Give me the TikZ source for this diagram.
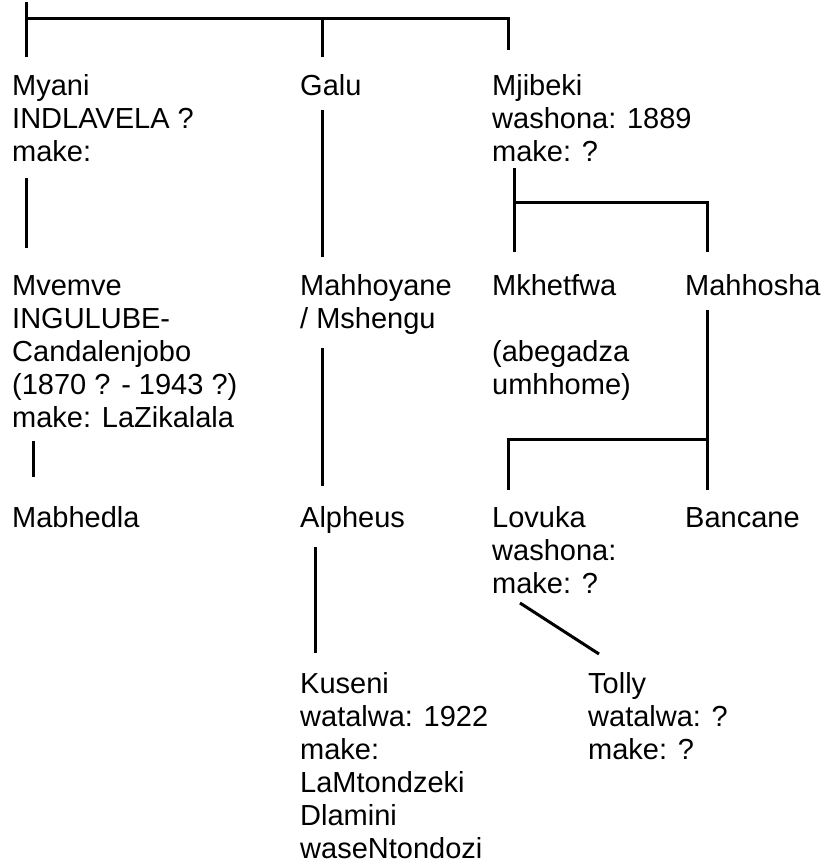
\documentclass[tikz,border=0pt]{standalone}
\usepackage{fontspec}
\setmainfont{Liberation Sans}
\begin{document}
\begin{tikzpicture}[x=1pt,y=-1pt,
  person/.style={anchor=north west,inner sep=0pt,align=left,
    font=\fontsize{29}{33}\selectfont},
  link/.style={line width=3pt,line cap=butt}]
\useasboundingbox (0,0) rectangle (824,864);
% people
\node[person] (myani) at (12,71.9) {\strut Myani\\INDLAVELA ?\\make:};
\node[person] (galu) at (300,71.9) {\strut Galu};
\node[person] (mjibeki) at (492,71.9) {\strut Mjibeki\\washona: 1889\\make: ?};
\node[person] (mvemve) at (12,271.9) {\strut Mvemve\\INGULUBE-\\Candalenjobo\\(1870 ? - 1943 ?)\\make: LaZikalala};
\node[person] (mahhoyane) at (300,271.9) {\strut Mahhoyane\\/ Mshengu};
\node[person] (mkhetfwa) at (492,271.9) {\strut Mkhetfwa\\[33pt](abegadza\\umhhome)};
\node[person] (mahhosha) at (685,271.9) {\strut Mahhosha};
\node[person] (mabhedla) at (12,503.9) {\strut Mabhedla};
\node[person] (alpheus) at (300,503.9) {\strut Alpheus};
\node[person] (lovuka) at (492,503.9) {\strut Lovuka\\washona:\\make: ?};
\node[person] (bancane) at (685,503.9) {\strut Bancane};
\node[person] (kuseni) at (300,669.9) {\strut Kuseni\\watalwa: 1922\\make:\\LaMtondzeki\\Dlamini\\waseNtondozi};
\node[person] (tolly) at (588,669.9) {\strut Tolly\\watalwa: ?\\make: ?};
% junction coordinates
\coordinate (top) at (26,2);
\coordinate (topbar) at (26,19);
\coordinate (myaniT) at (26,57);
\coordinate (galuT) at (322,57);
\coordinate (mjibekiT) at (508,50);
\coordinate (myaniB) at (26,178);
\coordinate (mvemveT) at (26,248);
\coordinate (galuB) at (322,110);
\coordinate (mahhoyaneT) at (322,257);
\coordinate (mjibekiB) at (514,168);
\coordinate (mjibekiJ) at (514,202);
\coordinate (mkhetfwaT) at (514,252);
\coordinate (mahhoshaT) at (707,252);
\coordinate (mvemveB) at (33,441);
\coordinate (mabhedlaT) at (33,477);
\coordinate (mahhoyaneB) at (322,348);
\coordinate (alpheusT) at (322,486);
\coordinate (mahhoshaB) at (707,310);
\coordinate (mahhoshaJ) at (707,439);
\coordinate (bancaneT) at (707,490);
\coordinate (lovukaT) at (508,490);
\coordinate (alpheusB) at (315,547);
\coordinate (kuseniT) at (315,653);
\coordinate (lovukaB) at (520,603);
\coordinate (tollyT) at (599,654);
% connectors
\draw[link] (top) -- (myaniT);
\draw[link] (topbar) -| (mjibekiT);
\draw[link] (topbar -| galuT) -- (galuT);
\draw[link] (myaniB) -- (mvemveT);
\draw[link] (galuB) -- (mahhoyaneT);
\draw[link] (mjibekiB) -- (mkhetfwaT);
\draw[link] (mjibekiJ) -| (mahhoshaT);
\draw[link] (mvemveB) -- (mabhedlaT);
\draw[link] (mahhoyaneB) -- (alpheusT);
\draw[link] (mahhoshaB) -- (bancaneT);
\draw[link] (mahhoshaJ) -| (lovukaT);
\draw[link] (alpheusB) -- (kuseniT);
\draw[link] (lovukaB) -- (tollyT);
\end{tikzpicture}
\end{document}
